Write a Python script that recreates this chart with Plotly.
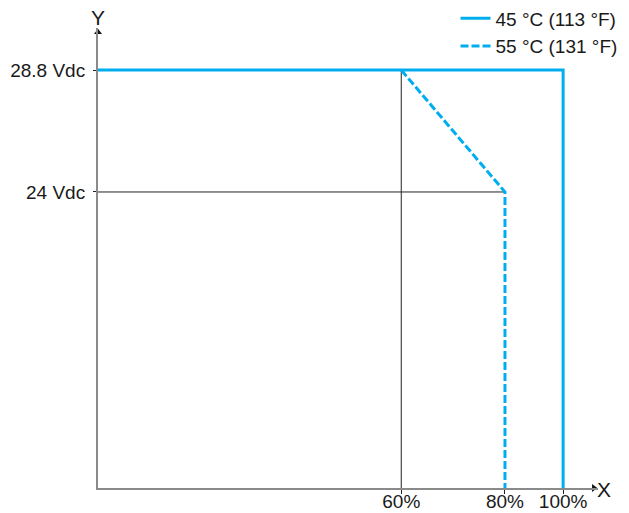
import plotly.graph_objects as go

# Schematic (non-linear) chart: tick labels and their positions on the drawing
x_labels = ["60%", "80%", "100%"]
x_pos = [65.2, 87.5, 100.0]
y_labels = ["24 Vdc", "28.8 Vdc"]
y_pos = [20.4, 28.8]

series_names = ["45 °C (113 °F)", "55 °C (131 °F)"]
s45_x = [0.0, 100.0, 100.0]
s45_y = [28.8, 28.8, 0.0]
s55_x = [65.2, 87.5, 87.5]
s55_y = [28.8, 20.4, 0.0]

guide_v_x = [65.2, 65.2]
guide_v_y = [0.0, 28.8]
guide_h_x = [0.0, 87.5]
guide_h_y = [20.4, 20.4]

X_MAX = 107.5
Y_MAX = 31.7
BLUE = "#00AEEF"
FONT = "Liberation Sans, Arial, sans-serif"
TXT = "#1a1a1a"

fig = go.Figure()

# guide lines
fig.add_trace(go.Scatter(x=guide_v_x, y=guide_v_y, mode="lines",
                         line=dict(color="#222222", width=1), showlegend=False, hoverinfo="skip"))
fig.add_trace(go.Scatter(x=guide_h_x, y=guide_h_y, mode="lines",
                         line=dict(color="#222222", width=1), showlegend=False, hoverinfo="skip"))

# series
fig.add_trace(go.Scatter(x=s55_x, y=s55_y, mode="lines", name=series_names[1],
                         legendgroup="b", legendrank=2,
                         line=dict(color=BLUE, width=3, dash="8px,3px")))
fig.add_trace(go.Scatter(x=s45_x, y=s45_y, mode="lines", name=series_names[0],
                         legendgroup="a", legendrank=1,
                         line=dict(color=BLUE, width=3), cliponaxis=False))

# axis arrowheads
fig.add_trace(go.Scatter(x=[X_MAX - 0.9], y=[0], mode="markers", cliponaxis=False,
                         marker=dict(symbol="triangle-right", size=7, color="#111111"),
                         showlegend=False, hoverinfo="skip"))
fig.add_trace(go.Scatter(x=[0], y=[Y_MAX - 0.3], mode="markers", cliponaxis=False,
                         marker=dict(symbol="triangle-up", size=7, color="#111111"),
                         showlegend=False, hoverinfo="skip"))

fig.update_layout(
    width=629, height=513,
    margin=dict(l=98, r=31, t=28, b=25, autoexpand=False),
    paper_bgcolor="white", plot_bgcolor="white",
    font=dict(family=FONT, size=20, color=TXT),
    legend=dict(x=0.715, xanchor="left", y=1.062, yanchor="top",
                font=dict(size=19, family=FONT, color=TXT), tracegroupgap=0,
                bgcolor="rgba(0,0,0,0)", itemwidth=30),
    xaxis=dict(range=[0, X_MAX], tickvals=x_pos, ticktext=x_labels, automargin=False,
               tickfont=dict(size=19, family=FONT, color=TXT), ticklabelstandoff=-9,
               showgrid=False, zeroline=False, showline=True,
               linecolor="#8a8a8a", linewidth=2,
               ticks="outside", ticklen=4, tickcolor="#222222", tickwidth=1),
    yaxis=dict(range=[0, Y_MAX], tickvals=y_pos, ticktext=y_labels, automargin=False,
               tickfont=dict(size=19, family=FONT, color=TXT), ticklabelstandoff=4,
               showgrid=False, zeroline=False, showline=True,
               linecolor="#8a8a8a", linewidth=2,
               ticks="outside", ticklen=3, tickcolor="#222222", tickwidth=1),
    annotations=[
        dict(text="Y", xref="paper", yref="paper", x=0, y=1.022,
             showarrow=False, font=dict(size=21, family=FONT, color=TXT),
             xanchor="center", yanchor="middle"),
        dict(text="X", xref="paper", yref="paper", x=1.012, y=-0.004,
             showarrow=False, font=dict(size=21, family=FONT, color=TXT),
             xanchor="center", yanchor="middle"),
    ],
)

fig.write_html("out.html", config={"displayModeBar": False},
               post_script="document.body.style.margin='0';document.body.style.padding='0';")
